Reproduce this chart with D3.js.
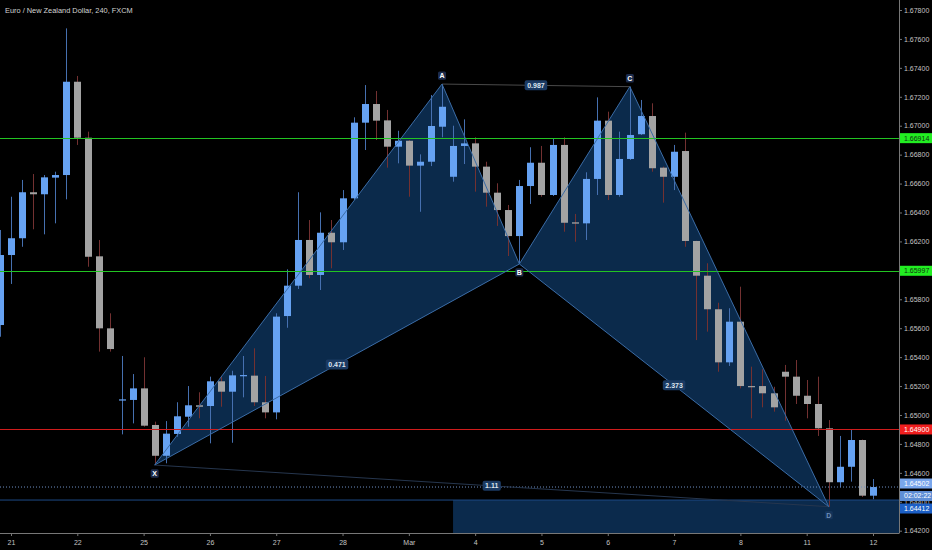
<!DOCTYPE html>
<html>
<head>
<meta charset="utf-8">
<script src="https://cdn.jsdelivr.net/npm/d3@7/dist/d3.min.js"></script>
<style>
html, body { margin:0; padding:0; background:#000; }
svg { display:block; }
text { font-family:"Liberation Sans", Arial, sans-serif; }
</style>
</head>
<body>
<svg id="chart" width="932" height="550"></svg>
<script>
/**
 * Call our functions on window load event
 */
window.onload = function(){
    setup();
};

/**
 * Chart data (EUR/NZD, 4h bars)
 * first bar is the cut one on the left edge (one bar before "21")
 */
var firstBar = -1;
var opens = [
    1.65622, 1.66106, 1.66222, 1.66540, 1.66526, 1.66641, 1.66659, 1.67304, 1.66917, 1.66097,
    1.65599, 1.65102, 1.65104, 1.65184, 1.64931, 1.64718, 1.64869, 1.64988, 1.65067, 1.65062,
    1.65233, 1.65161, 1.65270, 1.65272, 1.65088, 1.65018, 1.65684, 1.65894, 1.66210, 1.65968,
    1.66260, 1.66194, 1.66498, 1.67021, 1.67150, 1.67037, 1.66855, 1.66896, 1.66724, 1.66751,
    1.66993, 1.66647, 1.66860, 1.66878, 1.66717, 1.66537, 1.66417, 1.66237, 1.66583, 1.66744,
    1.66521, 1.66867, 1.66332, 1.66325, 1.66632, 1.67035, 1.66521, 1.66770, 1.66941, 1.67067,
    1.66710, 1.66647, 1.66825, 1.66203, 1.65963, 1.65731, 1.65364, 1.65645, 1.65200, 1.65200,
    1.65150, 1.65299, 1.65265, 1.65133, 1.65076, 1.64908, 1.64535, 1.64642, 1.64827, 1.64442];
var highs = [
    1.66279, 1.66509, 1.66625, 1.66666, 1.66659, 1.66682, 1.67673, 1.67344, 1.66959, 1.66210,
    1.65703, 1.65408, 1.65283, 1.65399, 1.64954, 1.64958, 1.65088, 1.65200, 1.65157, 1.65265,
    1.65270, 1.65306, 1.65408, 1.65461, 1.65270, 1.65703, 1.66007, 1.66540, 1.66348, 1.66401,
    1.66348, 1.66555, 1.67058, 1.67281, 1.67240, 1.67109, 1.66965, 1.66901, 1.66802, 1.67212,
    1.67288, 1.67000, 1.67044, 1.66920, 1.66751, 1.66602, 1.66452, 1.66625, 1.66851, 1.66860,
    1.66913, 1.66920, 1.66390, 1.66678, 1.67196, 1.67097, 1.66959, 1.67270, 1.67178, 1.67155,
    1.66717, 1.66867, 1.66952, 1.66205, 1.66049, 1.65776, 1.65738, 1.65887, 1.65334, 1.65316,
    1.65195, 1.65346, 1.65380, 1.65242, 1.65265, 1.64965, 1.64855, 1.64901, 1.64830, 1.64557];
var lows = [
    1.65541, 1.65906, 1.66163, 1.66284, 1.66249, 1.66325, 1.66491, 1.66867, 1.66025, 1.65438,
    1.65438, 1.64866, 1.64942, 1.64919, 1.64654, 1.64666, 1.64850, 1.64919, 1.64977, 1.64804,
    1.65057, 1.64808, 1.65122, 1.65062, 1.64977, 1.64970, 1.65603, 1.65871, 1.65945, 1.65864,
    1.66014, 1.66141, 1.66486, 1.66832, 1.66901, 1.66710, 1.66740, 1.66509, 1.66405, 1.66721,
    1.66920, 1.66613, 1.66735, 1.66544, 1.66440, 1.66307, 1.66099, 1.66044, 1.66459, 1.66509,
    1.66514, 1.66267, 1.66198, 1.66210, 1.66521, 1.66486, 1.66509, 1.66763, 1.66936, 1.66682,
    1.66468, 1.66555, 1.66163, 1.65518, 1.65576, 1.65299, 1.65339, 1.65184, 1.64977, 1.65053,
    1.65023, 1.64960, 1.65076, 1.64977, 1.64855, 1.64366, 1.64500, 1.64539, 1.64433, 1.64417];
var closes = [
    1.66106, 1.66222, 1.66540, 1.66526, 1.66643, 1.66659, 1.67304, 1.66917, 1.66094, 1.65599,
    1.65456, 1.65108, 1.65184, 1.64926, 1.64718, 1.64871, 1.64991, 1.65067, 1.65057, 1.65233,
    1.65161, 1.65274, 1.65276, 1.65088, 1.65018, 1.65680, 1.65894, 1.66210, 1.65968, 1.66260,
    1.66194, 1.66498, 1.67021, 1.67150, 1.67035, 1.66855, 1.66896, 1.66724, 1.66751, 1.66998,
    1.67131, 1.66860, 1.66878, 1.66717, 1.66537, 1.66417, 1.66237, 1.66583, 1.66744, 1.66521,
    1.66867, 1.66329, 1.66323, 1.66632, 1.67035, 1.66521, 1.66770, 1.66936, 1.67067, 1.66706,
    1.66647, 1.66820, 1.66203, 1.65963, 1.65731, 1.65364, 1.65645, 1.65200, 1.65193, 1.65150,
    1.65053, 1.65265, 1.65133, 1.65076, 1.64908, 1.64535, 1.64642, 1.64827, 1.64442, 1.64502];

// date labels and the bar where each day starts
var dayLabels = ["21", "22", "25", "26", "27", "28", "Mar", "4", "5", "6", "7", "8", "11", "12"];
var dayStartBar = [0, 6, 12, 18, 24, 30, 36, 42, 48, 54, 60, 66, 72, 78];

var priceTicks = [1.642, 1.644, 1.646, 1.648, 1.650, 1.652, 1.654, 1.656, 1.658, 1.660,
    1.662, 1.664, 1.666, 1.668, 1.670, 1.672, 1.674, 1.676, 1.678];

// harmonic pattern X A B C D
var pointNames = ["X", "A", "B", "C", "D"];
var pointBars = [13, 39, 46, 56, 74];
var pointPrices = [1.64654, 1.67288, 1.66044, 1.67270, 1.64366];
var ratioLegs = [[0, 2], [1, 3], [2, 4], [0, 4]];
var ratioLabels = ["0.471", "0.987", "2.373", "1.11"];

// horizontal levels
var levelPrices = [1.66914, 1.65997, 1.64900];
var lastPrice = 1.64502;
var countdown = "02:02:22";
var targetPrice = 1.64412;
var targetStartBar = 40;

var chartTitle = "Euro / New Zealand Dollar, 240, FXCM";

/**
 * Global stuff
 */
const PLOT = { right: 899, bottom: 533 };
const UP_BODY = "#66a2f2", DOWN_BODY = "#a3a3a3";
const UP_WICK = "#4670b0", DOWN_WICK = "#733131";
const LEVEL_COLORS = ["#22c422", "#22c422", "#d01c1c"];
const LEVEL_BOX = ["#22ee22", "#22ee22", "#f01e1e"];
const LEVEL_TEXT = ["#103010", "#103010", "#ffffff"];
const FILL = "#0b2a4b";
const EDGE = "#3b6ca6";

var xScale, yScale, svg;

function setup(){
    svg = d3.select("#chart");

    xScale = d3.scaleLinear().domain([0, 78]).range([11, 873]);
    yScale = d3.scaleLinear().domain([1.642, 1.678]).range([530.7, 10]);

    svg.append("rect").attr("width", 932).attr("height", 550).attr("fill", "#000");

    svg.append("defs").append("clipPath").attr("id", "plotClip")
        .append("rect").attr("x", 0).attr("y", 0).attr("width", PLOT.right).attr("height", PLOT.bottom);

    var plot = svg.append("g").attr("clip-path", "url(#plotClip)");

    drawPatternFill(plot);
    drawTargetZone(plot);
    drawCandles(plot);
    drawLevels(plot);
    drawPatternLines(plot);
    drawAxes();
    drawPriceLabels();

    svg.append("text")
        .attr("x", 5)
        .attr("y", 12.5)
        .attr("font-size", 7.4)
        .attr("fill", "#d4d4d4")
        .text(chartTitle);
}

function px(i){ return xScale(pointBars[i]); }
function py(i){ return yScale(pointPrices[i]); }

function drawPatternFill(g){
    //the two triangles X-A-B and B-C-D
    [[0, 1, 2], [2, 3, 4]].forEach(function(tri){
        g.append("polygon")
            .attr("points", tri.map(function(i){ return px(i) + "," + py(i); }).join(" "))
            .attr("fill", FILL);
    });
}

function drawTargetZone(g){
    g.append("rect")
        .attr("x", xScale(targetStartBar))
        .attr("y", yScale(targetPrice))
        .attr("width", PLOT.right - xScale(targetStartBar))
        .attr("height", PLOT.bottom - yScale(targetPrice))
        .attr("fill", "#0b2a4c");
}

function drawCandles(g){
    var bars = opens.map(function(o, i){
        return { bar: i + firstBar, o: o, h: highs[i], l: lows[i], c: closes[i], up: closes[i] >= o };
    });

    g.selectAll("line.wick")
        .data(bars)
        .enter()
        .append("line")
        .attr("class", "wick")
        .attr("x1", function(d){ return Math.round(xScale(d.bar)) + 0.5; })
        .attr("x2", function(d){ return Math.round(xScale(d.bar)) + 0.5; })
        .attr("y1", function(d){ return yScale(d.h); })
        .attr("y2", function(d){ return yScale(d.l); })
        .attr("stroke", function(d){ return d.up ? UP_WICK : DOWN_WICK; })
        .attr("stroke-width", 1);

    g.selectAll("rect.body")
        .data(bars)
        .enter()
        .append("rect")
        .attr("class", "body")
        .attr("x", function(d){ return Math.round(xScale(d.bar)) - 3; })
        .attr("width", 7)
        .attr("y", function(d){ return yScale(Math.max(d.o, d.c)); })
        .attr("height", function(d){ return Math.max(1.2, Math.abs(yScale(d.o) - yScale(d.c))); })
        .attr("fill", function(d){ return d.up ? UP_BODY : DOWN_BODY; });
}

function drawLevels(g){
    g.selectAll("rect.level")
        .data(levelPrices)
        .enter()
        .append("rect")
        .attr("class", "level")
        .attr("x", 0).attr("width", PLOT.right)
        .attr("y", function(d){ return Math.round(yScale(d)); })
        .attr("height", 1)
        .attr("fill", function(d, i){ return LEVEL_COLORS[i]; })
        .attr("shape-rendering", "crispEdges");

    //last price, dotted
    g.append("line")
        .attr("x1", 0).attr("x2", PLOT.right)
        .attr("y1", yScale(lastPrice)).attr("y2", yScale(lastPrice))
        .attr("stroke", "#6f8fc4").attr("stroke-width", 1)
        .attr("stroke-dasharray", "1,2");

    //target line
    g.append("line")
        .attr("x1", 0).attr("x2", PLOT.right)
        .attr("y1", yScale(targetPrice)).attr("y2", yScale(targetPrice))
        .attr("stroke", "#1d4a85").attr("stroke-width", 1);
}

function drawPatternLines(g){
    //thin guide lines A-C and X-D
    g.append("line")
        .attr("x1", px(1)).attr("y1", py(1)).attr("x2", px(3)).attr("y2", py(3))
        .attr("stroke", "#4a4a4a").attr("stroke-width", 1);
    g.append("line")
        .attr("x1", px(0)).attr("y1", py(0)).attr("x2", px(4)).attr("y2", py(4))
        .attr("stroke", "#26364e").attr("stroke-width", 1);

    var edges = [[0, 1], [1, 2], [2, 3], [3, 4], [0, 2], [2, 4]];
    g.selectAll("line.edge")
        .data(edges)
        .enter()
        .append("line")
        .attr("class", "edge")
        .attr("x1", function(d){ return px(d[0]); })
        .attr("y1", function(d){ return py(d[0]); })
        .attr("x2", function(d){ return px(d[1]); })
        .attr("y2", function(d){ return py(d[1]); })
        .attr("stroke", EDGE)
        .attr("stroke-width", 1);

    //ratio labels in the middle of each leg
    ratioLegs.forEach(function(leg, i){
        var cx = (px(leg[0]) + px(leg[1])) / 2;
        var cy = (py(leg[0]) + py(leg[1])) / 2;
        var lab = g.append("g");
        var t = lab.append("text")
            .attr("x", cx).attr("y", cy + 2.5)
            .attr("text-anchor", "middle")
            .attr("font-size", 7)
            .attr("font-weight", "bold")
            .attr("fill", "#dde4ee")
            .text(ratioLabels[i]);
        var w = t.node().getComputedTextLength() + 5;
        lab.insert("rect", "text")
            .attr("x", cx - w / 2).attr("y", cy - 5)
            .attr("width", w).attr("height", 10)
            .attr("rx", 2)
            .attr("fill", "#1b3a63");
    });

    //point labels, above for tops and below for bottoms
    pointNames.forEach(function(name, i){
        var above = (i === 1 || i === 3);
        var cx = px(i);
        var cy = py(i) + (above ? -8.4 : 8.4);
        g.append("rect")
            .attr("x", cx - 4).attr("y", cy - 4.2)
            .attr("width", 8).attr("height", 8.4)
            .attr("rx", 1.5)
            .attr("fill", i === 4 ? "#14345a" : "#1c2b4b");
        g.append("text")
            .attr("x", cx).attr("y", cy + 2.5)
            .attr("text-anchor", "middle")
            .attr("font-size", 7)
            .attr("font-weight", "bold")
            .attr("fill", i === 4 ? "#6d8db8" : "#ffffff")
            .text(name);
    });
}

function drawAxes(){
    //right price axis
    var yAxis = d3.axisRight(yScale)
        .tickValues(priceTicks)
        .tickFormat(d3.format(".5f"))
        .tickSize(3)
        .tickSizeOuter(0);
    var ya = svg.append("g").attr("transform", `translate(${PLOT.right}, 0)`).call(yAxis);
    ya.select(".domain").remove();
    ya.selectAll("line").attr("stroke", "#777");
    ya.selectAll("text")
        .attr("x", 5)
        .attr("fill", "#c4c4c4")
        .attr("font-size", 7)
        .attr("font-family", "Liberation Sans, Arial, sans-serif");

    svg.append("line")
        .attr("x1", PLOT.right + 0.5).attr("x2", PLOT.right + 0.5)
        .attr("y1", 0).attr("y2", PLOT.bottom)
        .attr("stroke", "#777");

    //bottom date axis
    var xAxis = d3.axisBottom(xScale)
        .tickValues(dayStartBar)
        .tickFormat(function(d, i){ return dayLabels[i]; })
        .tickSize(3)
        .tickSizeOuter(0);
    var xa = svg.append("g").attr("transform", `translate(0, ${PLOT.bottom})`).call(xAxis);
    xa.select(".domain").remove();
    xa.selectAll("line").attr("stroke", "#777");
    xa.selectAll("text")
        .attr("y", 7)
        .attr("fill", "#c4c4c4")
        .attr("font-size", 7)
        .attr("font-family", "Liberation Sans, Arial, sans-serif");

    svg.append("line")
        .attr("x1", 0).attr("x2", PLOT.right + 0.5)
        .attr("y1", PLOT.bottom + 0.5).attr("y2", PLOT.bottom + 0.5)
        .attr("stroke", "#777");
}

function priceBox(cy, text, bg, fg){
    svg.append("rect")
        .attr("x", PLOT.right + 1).attr("y", cy - 5)
        .attr("width", 932 - PLOT.right - 1).attr("height", 10)
        .attr("fill", bg);
    svg.append("text")
        .attr("x", PLOT.right + 5).attr("y", cy + 2.4)
        .attr("font-size", 7)
        .attr("fill", fg)
        .text(text);
}

function drawPriceLabels(){
    var fmt = d3.format(".5f");
    levelPrices.forEach(function(p, i){
        priceBox(yScale(p), fmt(p), LEVEL_BOX[i], LEVEL_TEXT[i]);
    });
    //last price, countdown under it, then the target level pushed below
    var yl = yScale(lastPrice);
    priceBox(yl - 3.5, fmt(lastPrice), "#79a6ec", "#ffffff");
    priceBox(yl + 9, countdown, "#5f8fd6", "#ffffff");
    priceBox(yl + 21.5, fmt(targetPrice), "#1c5fc6", "#ffffff");
}
</script>
</body>
</html>
